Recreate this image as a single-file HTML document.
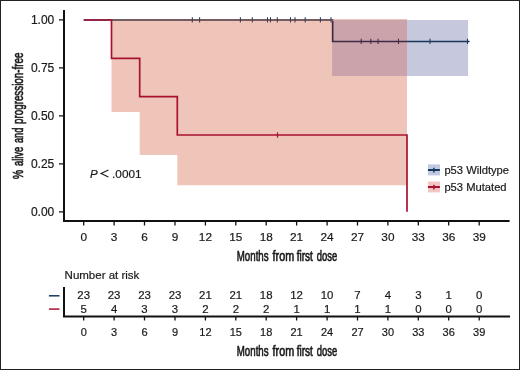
<!DOCTYPE html>
<html><head><meta charset="utf-8"><style>
html,body{margin:0;padding:0;background:#fff;width:520px;height:370px;overflow:hidden}
svg{display:block;will-change:transform}
text{font-family:"Liberation Sans",sans-serif;fill:#1a1a1a;stroke:#1a1a1a}
.t{stroke-width:0.2px}
.c{stroke-width:0.65px}
</style></head><body>
<svg width="520" height="370" viewBox="0 0 520 370">
<rect width="520" height="370" fill="#fff"/>
<rect x="332.3" y="20" width="135.8" height="56" fill="#c6c8dd"/>
<path d="M83.7 20 H332.7 V41.5 H469.6" fill="none" stroke="#16385c" stroke-width="1.6"/>
<path d="M192.3 17.2V22.6M199.6 17.2V22.6M240.4 17.2V22.6M252.3 17.2V22.6M267.5 17.2V22.6M270.5 17.2V22.6M277.3 17.2V22.6M290.5 17.2V22.6M295 17.2V22.6M305.2 17.2V22.6M320.4 17.2V22.6M331 17.2V22.6M361.2 38.7V44M370.8 38.7V44M378.1 38.7V44M398.5 38.7V44M430 38.7V44M467.5 38.7V44" stroke="#16385c" stroke-width="1.05"/>
<path d="M111.5 18.9 H407 V185.3 H177.3 V155 H139.7 V112 H111.5 Z" fill="rgb(202,64,24)" fill-opacity="0.3"/>
<rect x="332.3" y="20" width="74.7" height="56" fill="#caa4aa"/>
<path d="M332.7 20.8 V41.5 H407" fill="none" stroke="#3f2b45" stroke-width="1.6"/>
<path d="M361.2 38.7V44M370.8 38.7V44M378.1 38.7V44M398.5 38.7V44" stroke="#3f2b45" stroke-width="1.05"/>
<path d="M83.7 20 H111.5 V58.3 H139.7 V96.7 H177.3 V135.0 H407 V211.8" fill="none" stroke="#a8122f" stroke-width="1.7"/>
<path d="M277.5 132.3V137.7" stroke="#a8122f" stroke-width="1.2"/>
<path d="M64 10 V221 H509.6" fill="none" stroke="#111111" stroke-width="2"/>
<path d="M59 211.8H63M59 163.8H63M59 115.9H63M59 67.9H63M59 19.9H63M83.7 222V225.5M114.1 222V225.5M144.5 222V225.5M175.0 222V225.5M205.4 222V225.5M235.8 222V225.5M266.2 222V225.5M296.6 222V225.5M327.1 222V225.5M357.5 222V225.5M387.9 222V225.5M418.3 222V225.5M448.7 222V225.5M479.2 222V225.5" stroke="#111111" stroke-width="1.3"/>
<text class="t" x="54.3" y="23.7" font-size="12" text-anchor="end">1.00</text>
<text class="t" x="54.3" y="71.7" font-size="12" text-anchor="end">0.75</text>
<text class="t" x="54.3" y="119.7" font-size="12" text-anchor="end">0.50</text>
<text class="t" x="54.3" y="167.6" font-size="12" text-anchor="end">0.25</text>
<text class="t" x="54.3" y="215.6" font-size="12" text-anchor="end">0.00</text>
<text class="t" x="83.7" y="240.5" font-size="11.8" text-anchor="middle">0</text>
<text class="t" x="114.1" y="240.5" font-size="11.8" text-anchor="middle">3</text>
<text class="t" x="144.5" y="240.5" font-size="11.8" text-anchor="middle">6</text>
<text class="t" x="175.0" y="240.5" font-size="11.8" text-anchor="middle">9</text>
<text class="t" x="205.4" y="240.5" font-size="11.8" text-anchor="middle">12</text>
<text class="t" x="235.8" y="240.5" font-size="11.8" text-anchor="middle">15</text>
<text class="t" x="266.2" y="240.5" font-size="11.8" text-anchor="middle">18</text>
<text class="t" x="296.6" y="240.5" font-size="11.8" text-anchor="middle">21</text>
<text class="t" x="327.1" y="240.5" font-size="11.8" text-anchor="middle">24</text>
<text class="t" x="357.5" y="240.5" font-size="11.8" text-anchor="middle">27</text>
<text class="t" x="387.9" y="240.5" font-size="11.8" text-anchor="middle">30</text>
<text class="t" x="418.3" y="240.5" font-size="11.8" text-anchor="middle">33</text>
<text class="t" x="448.7" y="240.5" font-size="11.8" text-anchor="middle">36</text>
<text class="t" x="479.2" y="240.5" font-size="11.8" text-anchor="middle">39</text>
<text class="c" x="236.8" y="260.6" font-size="14" textLength="31.80" lengthAdjust="spacingAndGlyphs">Months</text>
<text class="c" x="272.6" y="260.6" font-size="14" textLength="21.51" lengthAdjust="spacingAndGlyphs">from</text>
<text class="c" x="296.7" y="260.6" font-size="14" textLength="16.22" lengthAdjust="spacingAndGlyphs">first</text>
<text class="c" x="316.8" y="260.6" font-size="14" textLength="20.41" lengthAdjust="spacingAndGlyphs">dose</text>
<g transform="translate(23.2 0) rotate(-90)">
<text class="c" x="-179.1" y="0.0" font-size="14.2" textLength="9.02" lengthAdjust="spacingAndGlyphs">%</text>
<text class="c" x="-166.1" y="0.0" font-size="14.2" textLength="19.42" lengthAdjust="spacingAndGlyphs">alive</text>
<text class="c" x="-143.0" y="0.0" font-size="14.2" textLength="15.28" lengthAdjust="spacingAndGlyphs">and</text>
<text class="c" x="-124.0" y="0.0" font-size="14.2" textLength="71.47" lengthAdjust="spacingAndGlyphs">progression-free</text>
</g>
<text class="t" x="90.1" y="177.9" font-size="11.5" font-style="italic">P</text>
<path d="M108.4 170.1 L101.1 173.6 L108.4 177.1" fill="none" stroke="#1a1a1a" stroke-width="1.1"/>
<text class="t" x="112.1" y="177.9" font-size="11.8">.0001</text>
<rect x="428" y="164.4" width="12" height="11" fill="#c0c9e2"/>
<path d="M427.9 170H439.9" stroke="#16385c" stroke-width="2"/><path d="M433.9 167.8V172.4" stroke="#16385c" stroke-width="1.5"/>
<rect x="428" y="181.6" width="12" height="10.8" fill="#f3c6c4"/>
<path d="M427.9 187H439.9" stroke="#a8122f" stroke-width="2"/><path d="M433.9 184.8V189.4" stroke="#a8122f" stroke-width="1.5"/>
<text class="t" x="444.4" y="174.2" font-size="11.2">p53 Wildtype</text>
<text class="t" x="444.4" y="191.2" font-size="11.2">p53 Mutated</text>
<text class="t" x="64.6" y="279.0" font-size="11.5">Number at risk</text>
<path d="M64 287 V316.5 H510" fill="none" stroke="#111111" stroke-width="2"/>
<path d="M83.7 317V320.5M114.1 317V320.5M144.5 317V320.5M175.0 317V320.5M205.4 317V320.5M235.8 317V320.5M266.2 317V320.5M296.6 317V320.5M327.1 317V320.5M357.5 317V320.5M387.9 317V320.5M418.3 317V320.5M448.7 317V320.5M479.2 317V320.5" stroke="#111111" stroke-width="1.3"/>
<path d="M48.9 295.8H59.5" stroke="#16385c" stroke-width="1.5"/>
<path d="M48.9 309.1H59.5" stroke="#a8122f" stroke-width="1.5"/>
<text class="t" x="83.7" y="299.1" font-size="11.4" text-anchor="middle">23</text>
<text class="t" x="83.7" y="312.6" font-size="11.4" text-anchor="middle">5</text>
<text class="t" x="83.7" y="336.0" font-size="11" text-anchor="middle">0</text>
<text class="t" x="114.1" y="299.1" font-size="11.4" text-anchor="middle">23</text>
<text class="t" x="114.1" y="312.6" font-size="11.4" text-anchor="middle">4</text>
<text class="t" x="114.1" y="336.0" font-size="11" text-anchor="middle">3</text>
<text class="t" x="144.5" y="299.1" font-size="11.4" text-anchor="middle">23</text>
<text class="t" x="144.5" y="312.6" font-size="11.4" text-anchor="middle">3</text>
<text class="t" x="144.5" y="336.0" font-size="11" text-anchor="middle">6</text>
<text class="t" x="175.0" y="299.1" font-size="11.4" text-anchor="middle">23</text>
<text class="t" x="175.0" y="312.6" font-size="11.4" text-anchor="middle">3</text>
<text class="t" x="175.0" y="336.0" font-size="11" text-anchor="middle">9</text>
<text class="t" x="205.4" y="299.1" font-size="11.4" text-anchor="middle">21</text>
<text class="t" x="205.4" y="312.6" font-size="11.4" text-anchor="middle">2</text>
<text class="t" x="205.4" y="336.0" font-size="11" text-anchor="middle">12</text>
<text class="t" x="235.8" y="299.1" font-size="11.4" text-anchor="middle">21</text>
<text class="t" x="235.8" y="312.6" font-size="11.4" text-anchor="middle">2</text>
<text class="t" x="235.8" y="336.0" font-size="11" text-anchor="middle">15</text>
<text class="t" x="266.2" y="299.1" font-size="11.4" text-anchor="middle">18</text>
<text class="t" x="266.2" y="312.6" font-size="11.4" text-anchor="middle">2</text>
<text class="t" x="266.2" y="336.0" font-size="11" text-anchor="middle">18</text>
<text class="t" x="296.6" y="299.1" font-size="11.4" text-anchor="middle">12</text>
<text class="t" x="296.6" y="312.6" font-size="11.4" text-anchor="middle">1</text>
<text class="t" x="296.6" y="336.0" font-size="11" text-anchor="middle">21</text>
<text class="t" x="327.1" y="299.1" font-size="11.4" text-anchor="middle">10</text>
<text class="t" x="327.1" y="312.6" font-size="11.4" text-anchor="middle">1</text>
<text class="t" x="327.1" y="336.0" font-size="11" text-anchor="middle">24</text>
<text class="t" x="357.5" y="299.1" font-size="11.4" text-anchor="middle">7</text>
<text class="t" x="357.5" y="312.6" font-size="11.4" text-anchor="middle">1</text>
<text class="t" x="357.5" y="336.0" font-size="11" text-anchor="middle">27</text>
<text class="t" x="387.9" y="299.1" font-size="11.4" text-anchor="middle">4</text>
<text class="t" x="387.9" y="312.6" font-size="11.4" text-anchor="middle">1</text>
<text class="t" x="387.9" y="336.0" font-size="11" text-anchor="middle">30</text>
<text class="t" x="418.3" y="299.1" font-size="11.4" text-anchor="middle">3</text>
<text class="t" x="418.3" y="312.6" font-size="11.4" text-anchor="middle">0</text>
<text class="t" x="418.3" y="336.0" font-size="11" text-anchor="middle">33</text>
<text class="t" x="448.7" y="299.1" font-size="11.4" text-anchor="middle">1</text>
<text class="t" x="448.7" y="312.6" font-size="11.4" text-anchor="middle">0</text>
<text class="t" x="448.7" y="336.0" font-size="11" text-anchor="middle">36</text>
<text class="t" x="479.2" y="299.1" font-size="11.4" text-anchor="middle">0</text>
<text class="t" x="479.2" y="312.6" font-size="11.4" text-anchor="middle">0</text>
<text class="t" x="479.2" y="336.0" font-size="11" text-anchor="middle">39</text>
<text class="c" x="236.8" y="355.8" font-size="14" textLength="31.80" lengthAdjust="spacingAndGlyphs">Months</text>
<text class="c" x="272.6" y="355.8" font-size="14" textLength="21.51" lengthAdjust="spacingAndGlyphs">from</text>
<text class="c" x="296.7" y="355.8" font-size="14" textLength="16.22" lengthAdjust="spacingAndGlyphs">first</text>
<text class="c" x="316.8" y="355.8" font-size="14" textLength="20.41" lengthAdjust="spacingAndGlyphs">dose</text>
<rect x="0.5" y="0.5" width="519" height="369" fill="none" stroke="#222" stroke-width="1"/>
</svg>
</body></html>
